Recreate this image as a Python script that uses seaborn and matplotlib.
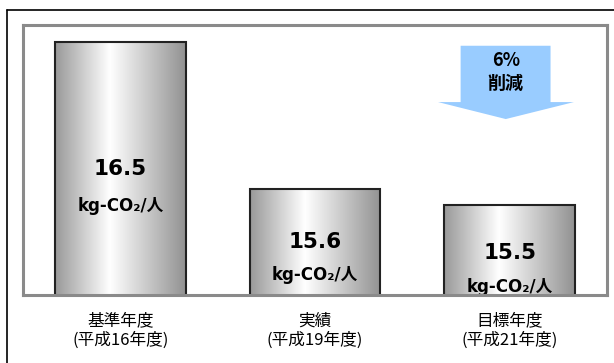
import numpy as np
import matplotlib
matplotlib.use("Agg")
import matplotlib.pyplot as plt
from matplotlib.colors import LinearSegmentedColormap
from matplotlib.patches import Polygon
from matplotlib.lines import Line2D
import seaborn as sns

# Per-capita CO2 emissions (kg-CO2 / person)
categories = ["基準年度\n(平成16年度)", "実績\n(平成19年度)", "目標年度\n(平成21年度)"]
values = [16.5, 15.6, 15.5]
value_labels = ["16.5", "15.6", "15.5"]
unit_label = "kg-CO₂/人"
reduction_label = "6%\n削減"

sns.set_theme(style="white")
plt.rcParams["font.family"] = ["Noto Sans CJK JP", "DejaVu Sans"]
latin_first = ["DejaVu Sans", "Noto Sans CJK JP"]

fig = plt.figure(figsize=(6.14, 3.63), dpi=100)
ax = fig.add_axes([23 / 614, 1 - 294.5 / 363, 584 / 614, 269.5 / 363])

sns.barplot(x=categories, y=values, ax=ax, width=0.67, color="white",
            edgecolor="#222222", linewidth=1.5)

# truncated value axis
y_bottom, y_top = 14.953, 16.607

# metallic horizontal gradient for each bar
grey = LinearSegmentedColormap.from_list(
    "metal", [(0.0, "#999999"), (0.42, "#ffffff"), (1.0, "#929292")])
grad = np.linspace(0, 1, 256).reshape(1, -1)
for p in ax.patches:
    p.set_facecolor("none")
    p.set_zorder(1.6)
    x0, w = p.get_x(), p.get_width()
    ax.imshow(grad, extent=[x0, x0 + w, y_bottom, p.get_y() + p.get_height()],
              cmap=grey, aspect="auto", zorder=1.5, interpolation="bicubic")
ax.set_ylim(y_bottom, y_top)
ax.set_xlim(-0.5, 2.5)

# value and unit labels inside each bar (y in axes fraction)
trans = ax.get_xaxis_transform()
value_y = [0.466, 0.196, 0.154]
unit_y = [0.328, 0.072, 0.028]
for i, (lab, vy, uy) in enumerate(zip(value_labels, value_y, unit_y)):
    ax.text(i, vy, lab, transform=trans, ha="center", va="center",
            fontsize=15.5, fontweight="bold", color="black", zorder=2,
            family=latin_first)
    ax.text(i, uy, unit_label, transform=trans, ha="center", va="center",
            fontsize=12, fontweight="bold", color="black", zorder=2,
            family=latin_first)

# reduction arrow above the target bar
arrow = Polygon([(1.748, 0.923), (2.21, 0.923), (2.21, 0.714), (2.33, 0.714),
                 (1.98, 0.651), (1.632, 0.714), (1.748, 0.714)],
                closed=True, transform=trans, facecolor="#99ccff",
                edgecolor="none", zorder=1.2)
ax.add_patch(arrow)
ax.text(1.98, 0.826, reduction_label, transform=trans, ha="center", va="center",
        fontsize=13, fontweight="bold", color="black", linespacing=1.25, zorder=2)

# axes frame and ticks
for s in ax.spines.values():
    s.set_visible(True)
    s.set_color("#8a8a8a")
    s.set_linewidth(2.2)
ax.set_yticks([])
ax.set_ylabel("")
ax.set_xlabel("")
ax.tick_params(axis="x", length=0, pad=13, labelsize=12, labelcolor="black")
for t in ax.get_xticklabels():
    t.set_linespacing(1.15)

# outer border lines
fig.add_artist(Line2D([7 / 614, 1], [1 - 10 / 363, 1 - 10 / 363],
                      transform=fig.transFigure, color="black", linewidth=1.2))
fig.add_artist(Line2D([7 / 614, 7 / 614], [0, 1 - 10 / 363],
                      transform=fig.transFigure, color="black", linewidth=1.2))

fig.savefig("out.png", dpi=100, facecolor="white")
